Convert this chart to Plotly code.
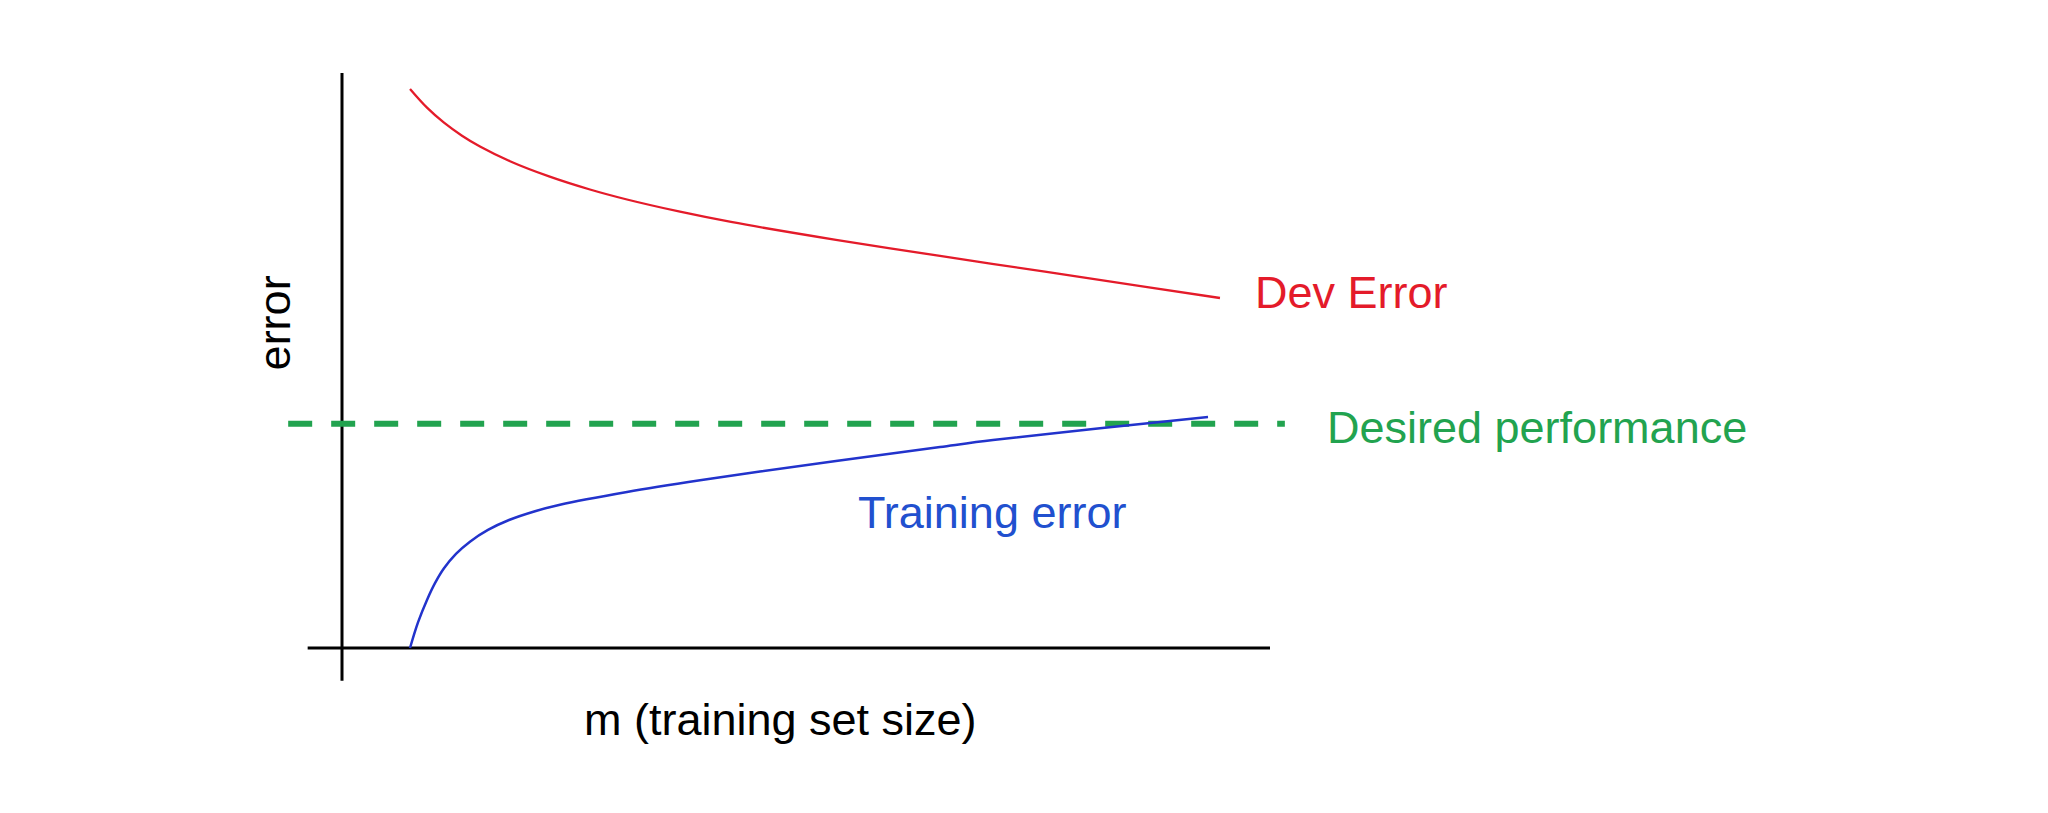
import plotly.graph_objects as go

# ---- data (units: m = 0..100 across x-axis, error = 0..100 up y-axis)
dev_m = [7.33, 9.16, 10.99, 12.93, 14.87, 18.10, 22.31, 26.72, 30.71, 36.42,
         41.92, 53.23, 64.44, 75.75, 86.96, 94.61]
dev_err = [97.22, 93.97, 91.36, 89.10, 87.22, 84.66, 82.02, 79.74, 78.0, 75.88,
           74.10, 70.99, 68.19, 65.44, 62.73, 60.87]

train_m = [7.33, 8.19, 9.16, 10.02, 10.99, 12.28, 13.79, 15.73, 18.0, 20.80,
           23.49, 30.71, 38.58, 45.04, 53.23, 64.44, 70.15, 81.68, 93.32]
train_err = [0.0, 4.45, 8.35, 11.27, 13.86, 16.37, 18.50, 20.54, 22.26, 23.79,
             24.92, 27.13, 29.17, 30.68, 32.52, 34.96, 36.16, 38.21, 40.17]

desired_m = [-5.8, 101.6]
desired_err = [39.0, 39.0]

axis_x_m = [-3.7, 100.0]
axis_y_err = [-5.7, 100.0]

# ---- styling
RED = "#E41B2A"
BLUE_LINE = "#2233CC"
BLUE_TEXT = "#2150CF"
GREEN = "#22A34F"
FONT = "Liberation Sans, Arial, Helvetica, sans-serif"

W, H = 2048, 813
# pixel anchors of axis origin and unit scales (page body has an 8px margin)
X0_PX, X100_PX = 334, 1262
Y0_PX, Y100_PX = 640, 65
sx = (X100_PX - X0_PX) / 100.0
sy = (Y0_PX - Y100_PX) / 100.0
x_range = [(0 - X0_PX) / sx, (W - X0_PX) / sx]
y_range = [-(H - Y0_PX) / sy, Y0_PX / sy]

fig = go.Figure()

# axes lines
fig.add_trace(go.Scatter(x=axis_x_m, y=[0, 0], mode="lines",
                         line=dict(color="black", width=3), hoverinfo="skip"))
fig.add_trace(go.Scatter(x=[0, 0], y=axis_y_err, mode="lines",
                         line=dict(color="black", width=3), hoverinfo="skip"))

# desired performance
fig.add_trace(go.Scatter(x=desired_m, y=desired_err, mode="lines",
                         line=dict(color=GREEN, width=6, dash="24px,19px")))
# dev error
fig.add_trace(go.Scatter(x=dev_m, y=dev_err, mode="lines",
                         line=dict(color=RED, width=2.3, shape="spline", smoothing=1.0)))
# training error
fig.add_trace(go.Scatter(x=train_m, y=train_err, mode="lines",
                         line=dict(color=BLUE_LINE, width=2.5, shape="spline", smoothing=1.0)))

ann = [
    dict(x=98.2, y=61.9, text="Dev Error", xanchor="left", yanchor="middle",
         font=dict(color=RED, size=45, family=FONT)),
    dict(x=105.9, y=38.3, text="Desired performance", xanchor="left", yanchor="middle",
         font=dict(color=GREEN, size=45, family=FONT)),
    dict(x=55.4, y=23.5, text="Training error", xanchor="left", yanchor="middle",
         font=dict(color=BLUE_TEXT, size=45, family=FONT)),
    dict(x=-7.3, y=56.5, text="error", textangle=-90, xanchor="center", yanchor="middle",
         font=dict(color="black", size=45, family=FONT)),
    dict(x=47.3, y=-12.5, text="m (training set size)", xanchor="center", yanchor="middle",
         font=dict(color="black", size=45, family=FONT)),
]
for a in ann:
    a["showarrow"] = False
    fig.add_annotation(**a)

fig.update_layout(
    width=W, height=H,
    margin=dict(l=0, r=0, t=0, b=0),
    paper_bgcolor="white", plot_bgcolor="white",
    showlegend=False,
    xaxis=dict(range=x_range, visible=False, fixedrange=True),
    yaxis=dict(range=y_range, visible=False, fixedrange=True),
)

fig.write_html("out.html")
